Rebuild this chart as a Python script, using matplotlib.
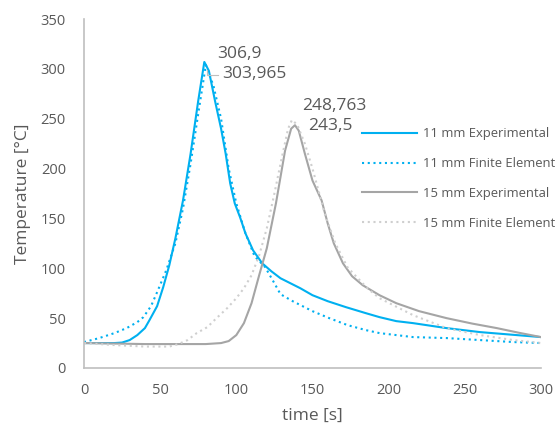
import matplotlib
matplotlib.use("Agg")
import matplotlib.pyplot as plt

# 11 mm - experimental
t_11_exp = [0, 10, 20, 25, 30, 35, 40, 43, 48, 52, 56, 60, 65, 70, 75, 79, 82, 86, 90, 93, 96,
            99, 102.5, 106, 111, 117, 123, 129, 142, 150, 160, 172, 185, 194, 205, 216, 238, 260, 280, 300]
T_11_exp = [25, 25, 25, 25.5, 28, 33, 40, 48, 62, 81, 103, 130, 168, 215, 268, 306.9, 298, 268, 240, 215, 185,
            165, 151, 135, 118, 105, 97, 90, 80, 73, 67, 61, 55, 51, 47, 45, 40, 36, 33.5, 31]

# 11 mm - finite element
t_11_fe = [0, 10, 20, 28, 35, 39, 44, 48, 54, 60, 65, 70, 75, 80, 85, 90, 95, 100, 106, 112,
           119, 125, 129, 137, 150, 161, 173, 185, 194, 205, 216, 238, 260, 282, 300]
T_11_fe = [26, 30, 35, 40, 46, 51, 62, 76, 98, 125, 160, 205, 255, 303.965, 283, 250, 200, 165, 135, 112,
           101, 85, 74, 67, 57, 50, 43, 38, 35, 33, 31, 30, 28, 26, 25]

# 15 mm - experimental
t_15_exp = [0, 20, 40, 60, 80, 90, 95, 100, 105, 110, 115, 120, 126, 132, 136, 138.5, 141, 145, 150,
            156, 160, 164, 170, 176, 183, 194, 205, 220, 238, 255, 271, 285, 300]
T_15_exp = [25, 24.5, 24, 24, 24, 25, 27, 33, 45, 65, 93, 120, 165, 218, 240, 243.5, 238, 215, 188,
            168, 145, 125, 105, 92, 83, 73, 65, 57, 50, 44.5, 40, 35.5, 31]

# 15 mm - finite element
t_15_fe = [0, 20, 40, 56, 62, 68, 74, 81, 87, 94, 100, 105, 110, 115, 120, 125, 130, 134, 136.5, 140,
           145, 150, 155, 158, 165, 173, 186, 194, 216, 238, 260, 282, 300]
T_15_fe = [25, 23, 21.5, 21.5, 24, 28, 35, 41, 50, 60, 70, 80, 93, 113, 140, 175, 212, 240, 248.763, 244,
           225, 200, 172, 155, 125, 101, 80, 70, 53, 40, 33, 28, 25]

labels = ["11 mm Experimental", "11 mm Finite Element", "15 mm Experimental", "15 mm Finite Element"]

BLUE = "#00B0F0"
GRAY = "#A5A5A5"
LIGHT = "#CFCFCF"
TEXT = "#595959"

plt.rcParams["font.family"] = ["Open Sans", "DejaVu Sans"]

fig = plt.figure(figsize=(5.58, 4.28), dpi=100)
ax = fig.add_axes([0.1505, 0.1402, 0.819, 0.8154])

dots = (0, (1, 1.75))
ax.plot(t_11_exp, T_11_exp, color=BLUE, linewidth=1.5, label=labels[0])
ax.plot(t_11_fe, T_11_fe, color=BLUE, linewidth=1.5, linestyle=dots, label=labels[1])
ax.plot(t_15_exp, T_15_exp, color=GRAY, linewidth=1.5, label=labels[2])
ax.plot(t_15_fe, T_15_fe, color=LIGHT, linewidth=1.5, linestyle=dots, label=labels[3])

# peak labels
ax.text(87.3, 315, "306,9", color=TEXT, fontsize=12.5, ha="left", va="center")
ax.text(90.6, 295, "303,965", color=TEXT, fontsize=12.5, ha="left", va="center")
ax.plot([80.8, 80.8, 88], [299, 294, 294], color="#BFBFBF", linewidth=0.8)
ax.text(143, 263, "248,763", color=TEXT, fontsize=12.5, ha="left", va="center")
ax.text(147, 243, "243,5", color=TEXT, fontsize=12.5, ha="left", va="center")

ax.set_xlim(0, 300)
ax.set_ylim(0, 350)
ax.set_xticks(range(0, 301, 50))
ax.set_yticks(range(0, 351, 50))
ax.tick_params(length=0, labelsize=10.5, labelcolor=TEXT)
ax.tick_params(axis="x", pad=11)
ax.tick_params(axis="y", pad=13)
for side in ["top", "right"]:
    ax.spines[side].set_visible(False)
for side in ["left", "bottom"]:
    ax.spines[side].set_color("#BFBFBF")
    ax.spines[side].set_linewidth(1.2)

ax.set_xlabel("time [s]", fontsize=12.5, color=TEXT, labelpad=7)
ax.set_ylabel("Temperature [°C]", fontsize=12.5, color=TEXT, labelpad=7)

fig.legend(loc="upper left", bbox_to_anchor=(0.6487, 0.703), frameon=False, fontsize=9.4,
           handlelength=4.2, handletextpad=0.46, labelspacing=1.3, borderpad=0, borderaxespad=0,
           labelcolor=TEXT)

fig.savefig("out.png", dpi=100)
